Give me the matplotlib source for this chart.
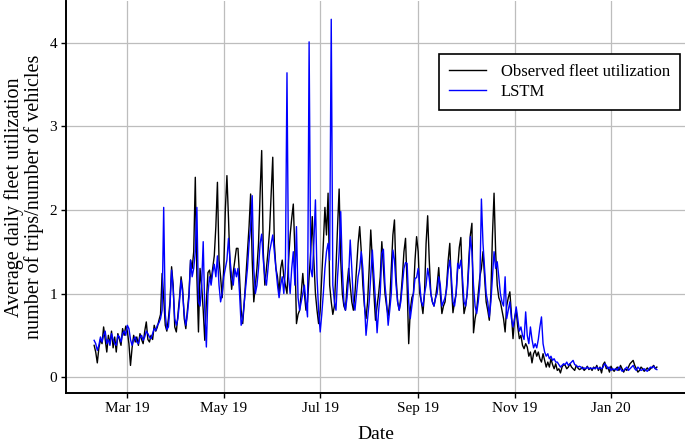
import matplotlib
matplotlib.use("Agg")
import matplotlib.pyplot as plt
import matplotlib.dates as mdates
import numpy as np
import pandas as pd

start_date = "2019-02-08"

observed = [
    0.38, 0.30, 0.17, 0.35, 0.45, 0.40, 0.60,
    0.45, 0.30, 0.50, 0.40, 0.55, 0.35, 0.48,
    0.30, 0.52, 0.45, 0.38, 0.58, 0.50, 0.61,
    0.55, 0.40, 0.14, 0.35, 0.50, 0.42, 0.48,
    0.38, 0.52, 0.45, 0.40, 0.55, 0.66, 0.45,
    0.42, 0.50, 0.45, 0.62, 0.55, 0.60, 0.68,
    0.75, 1.24, 0.95, 0.62, 0.55, 0.70, 0.90,
    1.32, 1.10, 0.60, 0.54, 0.75, 0.95, 1.20,
    1.05, 0.70, 0.58, 0.80, 1.00, 1.40, 1.30,
    1.50, 2.39, 1.20, 0.54, 1.30, 1.10, 0.80,
    0.44, 0.90, 1.25, 1.28, 1.15, 1.30, 1.45,
    1.80, 2.33, 1.40, 1.20, 0.95, 1.30, 2.00,
    2.41, 1.90, 1.30, 1.05, 1.25, 1.40, 1.54,
    1.54, 1.20, 0.80, 0.64, 0.90, 1.20, 1.50,
    1.80, 2.19, 1.40, 0.90, 1.10, 1.30, 1.60,
    2.20, 2.71, 1.50, 1.10, 1.30, 1.50, 1.76,
    2.20, 2.63, 1.60, 1.30, 1.20, 1.00, 1.30,
    1.40, 1.20, 1.10, 1.00, 1.40, 1.70, 1.90,
    2.07, 1.50, 0.64, 0.75, 0.80, 1.00, 1.24,
    1.00, 0.80, 0.90, 1.20, 1.50, 1.92, 1.40,
    1.00, 0.80, 0.64, 0.80, 1.20, 1.60, 2.03,
    1.70, 2.20, 1.10, 0.90, 0.75, 0.85, 1.30,
    1.80, 2.25, 1.40, 1.00, 0.85, 0.80, 1.10,
    1.30, 1.10, 0.90, 0.80, 1.00, 1.30, 1.60,
    1.80, 1.50, 1.10, 0.85, 0.70, 0.90, 1.30,
    1.76, 1.40, 1.00, 0.68, 0.85, 1.00, 1.20,
    1.62, 1.30, 1.00, 0.85, 0.73, 0.90, 1.30,
    1.70, 1.88, 1.20, 0.90, 0.80, 0.95, 1.20,
    1.50, 1.66, 1.10, 0.40, 0.80, 0.95, 1.00,
    1.40, 1.68, 1.50, 1.00, 0.90, 0.76, 1.00,
    1.60, 1.93, 1.40, 1.00, 0.90, 0.85, 0.95,
    1.10, 1.31, 1.00, 0.76, 0.85, 0.90, 1.10,
    1.40, 1.60, 1.10, 0.77, 0.90, 1.00, 1.30,
    1.55, 1.67, 1.10, 0.76, 0.85, 1.00, 1.40,
    1.70, 1.84, 0.53, 0.70, 0.80, 1.00, 1.20,
    1.30, 1.50, 1.20, 0.90, 0.80, 0.68, 1.00,
    1.70, 2.20, 1.50, 1.10, 0.95, 0.90, 0.80,
    0.70, 0.54, 0.85, 0.95, 1.02, 0.75, 0.46,
    0.70, 0.80, 0.60, 0.46, 0.50, 0.38, 0.34,
    0.40, 0.36, 0.25, 0.30, 0.17, 0.28, 0.32,
    0.25, 0.30, 0.22, 0.18, 0.28, 0.20, 0.12,
    0.18, 0.12, 0.22, 0.15, 0.10, 0.16, 0.08,
    0.10, 0.05, 0.12, 0.15, 0.14, 0.10, 0.12,
    0.16, 0.12, 0.10, 0.08, 0.14, 0.11, 0.09,
    0.10, 0.12, 0.08, 0.10, 0.13, 0.09, 0.11,
    0.08, 0.12, 0.10, 0.14, 0.08, 0.12, 0.05,
    0.15, 0.18, 0.10, 0.12, 0.06, 0.13, 0.09,
    0.07, 0.10, 0.12, 0.08, 0.14, 0.10, 0.06,
    0.10, 0.08, 0.12, 0.16, 0.18, 0.20, 0.14,
    0.10, 0.06, 0.08, 0.12, 0.10, 0.07, 0.09,
    0.11, 0.08, 0.10, 0.12, 0.14, 0.10, 0.12,
]

lstm = [
    0.44, 0.40, 0.32, 0.38, 0.48, 0.42, 0.50,
    0.55, 0.40, 0.45, 0.38, 0.52, 0.45, 0.40,
    0.38, 0.50, 0.48, 0.42, 0.52, 0.55, 0.50,
    0.62, 0.58, 0.45, 0.38, 0.45, 0.48, 0.42,
    0.40, 0.48, 0.50, 0.44, 0.48, 0.55, 0.52,
    0.48, 0.46, 0.52, 0.58, 0.56, 0.62, 0.65,
    0.70, 0.80, 2.03, 0.75, 0.57, 0.60, 0.85,
    1.28, 1.05, 0.70, 0.62, 0.70, 0.90, 1.16,
    1.00, 0.75, 0.62, 0.75, 0.95, 1.40, 1.20,
    1.30, 1.50, 2.03, 0.90, 0.85, 1.10, 1.62,
    0.80, 0.36, 1.00, 1.20, 1.10, 1.25, 1.35,
    1.20, 1.45, 1.10, 0.90, 1.00, 1.20, 1.30,
    1.40, 1.66, 1.40, 1.20, 1.10, 1.30, 1.20,
    1.30, 1.00, 0.62, 0.70, 0.90, 1.10, 1.30,
    1.60, 1.80, 2.17, 1.30, 1.00, 1.10, 1.30,
    1.60, 1.71, 1.40, 1.20, 1.10, 1.30, 1.50,
    1.60, 1.70, 1.50, 1.30, 1.10, 0.95, 1.10,
    1.20, 1.00, 1.30, 3.64, 1.20, 1.00, 1.30,
    1.50, 1.10, 1.80, 0.95, 0.80, 0.90, 1.00,
    1.10, 0.90, 0.72, 4.01, 1.30, 1.20, 1.60,
    2.12, 1.20, 0.80, 0.54, 0.75, 1.00, 1.30,
    1.50, 1.60, 1.40, 4.28, 1.10, 0.90, 0.80,
    1.20, 1.50, 1.98, 1.30, 0.90, 0.80, 0.95,
    1.20, 1.64, 1.30, 0.90, 0.80, 1.00, 1.20,
    1.30, 1.50, 1.30, 0.90, 0.50, 0.70, 0.90,
    1.20, 1.52, 1.20, 0.90, 0.53, 0.80, 1.00,
    1.48, 1.53, 1.10, 0.90, 0.62, 0.80, 1.00,
    1.52, 1.40, 1.10, 0.90, 0.80, 0.90, 1.10,
    1.30, 1.37, 1.36, 0.90, 0.70, 0.85, 1.00,
    1.18, 1.19, 1.30, 1.10, 0.90, 0.85, 1.00,
    1.10, 1.30, 1.18, 1.00, 0.90, 0.85, 0.95,
    1.00, 1.20, 1.10, 0.85, 0.90, 0.95, 1.05,
    1.28, 1.40, 1.20, 0.90, 0.85, 1.00, 1.36,
    1.30, 1.40, 1.20, 0.90, 0.85, 1.00, 1.30,
    1.68, 1.50, 1.10, 0.85, 0.76, 0.90, 1.10,
    2.13, 1.60, 1.30, 1.00, 0.90, 0.72, 0.90,
    1.20, 1.50, 1.30, 1.38, 1.20, 1.00, 0.90,
    0.85, 1.20, 0.70, 0.80, 0.90, 0.70, 0.60,
    0.70, 0.84, 0.70, 0.55, 0.60, 0.50, 0.45,
    0.78, 0.50, 0.40, 0.60, 0.45, 0.35, 0.40,
    0.35, 0.45, 0.60, 0.72, 0.40, 0.30, 0.25,
    0.28, 0.22, 0.25, 0.20, 0.22, 0.18, 0.18,
    0.15, 0.12, 0.14, 0.16, 0.15, 0.18, 0.14,
    0.16, 0.18, 0.20, 0.15, 0.14, 0.12, 0.13,
    0.12, 0.10, 0.11, 0.10, 0.12, 0.10, 0.11,
    0.10, 0.11, 0.10, 0.12, 0.10, 0.11, 0.10,
    0.12, 0.16, 0.14, 0.10, 0.12, 0.08, 0.10,
    0.09, 0.10, 0.08, 0.12, 0.10, 0.07, 0.08,
    0.10, 0.12, 0.08, 0.10, 0.12, 0.14, 0.10,
    0.08, 0.12, 0.10, 0.08, 0.09, 0.10, 0.08,
    0.07, 0.10, 0.12, 0.11, 0.13, 0.10, 0.09,
]

tick_dates = ["2019-03-01", "2019-05-01", "2019-07-01", "2019-09-01", "2019-11-01", "2020-01-01"]
tick_labels = ["Mar 19", "May 19", "Jul 19", "Sep 19", "Nov 19", "Jan 20"]
y_ticks = [0, 1, 2, 3, 4]

series_names = ["Observed fleet utilization", "LSTM"]

plt.rcParams['font.family'] = ['Liberation Serif', 'DejaVu Serif']

dates = pd.date_range(start_date, periods=len(observed), freq="D")

fig = plt.figure(figsize=(6.85, 4.43), dpi=100)
ax = fig.add_axes([66/685, 1 - 393/443, 1 - 66/685, 393/443 - 0.002])

ax.plot(dates, observed, color="black", lw=1.0, label=series_names[0], zorder=3)
ax.plot(dates, lstm, color="#0000FF", lw=1.0, label=series_names[1], zorder=4)

span = dates[-1] - dates[0]
pad = span * 0.05
ax.set_xlim(dates[0] - pad, dates[-1] + pad)
ax.set_ylim(-0.19, 4.50)

ax.set_xticks(pd.to_datetime(tick_dates))
ax.set_xticklabels(tick_labels)
ax.set_yticks(y_ticks)

ax.grid(True, color="#bdbdbd", lw=0.9)
ax.set_axisbelow(True)
for s in ["top", "right"]:
    ax.spines[s].set_visible(False)
for s in ["left", "bottom"]:
    ax.spines[s].set_linewidth(1.4)
    ax.spines[s].set_color("black")

ax.tick_params(axis="both", direction="out", length=3.5, width=1.0, colors="black",
               labelsize=11, pad=3)

ax.set_xlabel("Date", fontsize=14, labelpad=8)
ax.set_ylabel("Average daily fleet utilization\nnumber of trips/number of vehicles",
              fontsize=14.5, labelpad=4, linespacing=1.0)

leg = ax.legend(loc="upper right", bbox_to_anchor=((680 - 66) / 619, (393 - 53) / 393),
                borderaxespad=0.0, fontsize=12,
                frameon=True, fancybox=False, edgecolor="black", framealpha=1,
                borderpad=0.6, handlelength=2.2, handletextpad=0.9, labelspacing=0.25)
leg.get_frame().set_linewidth(1.2)

fig.savefig("out.png", dpi=100)
